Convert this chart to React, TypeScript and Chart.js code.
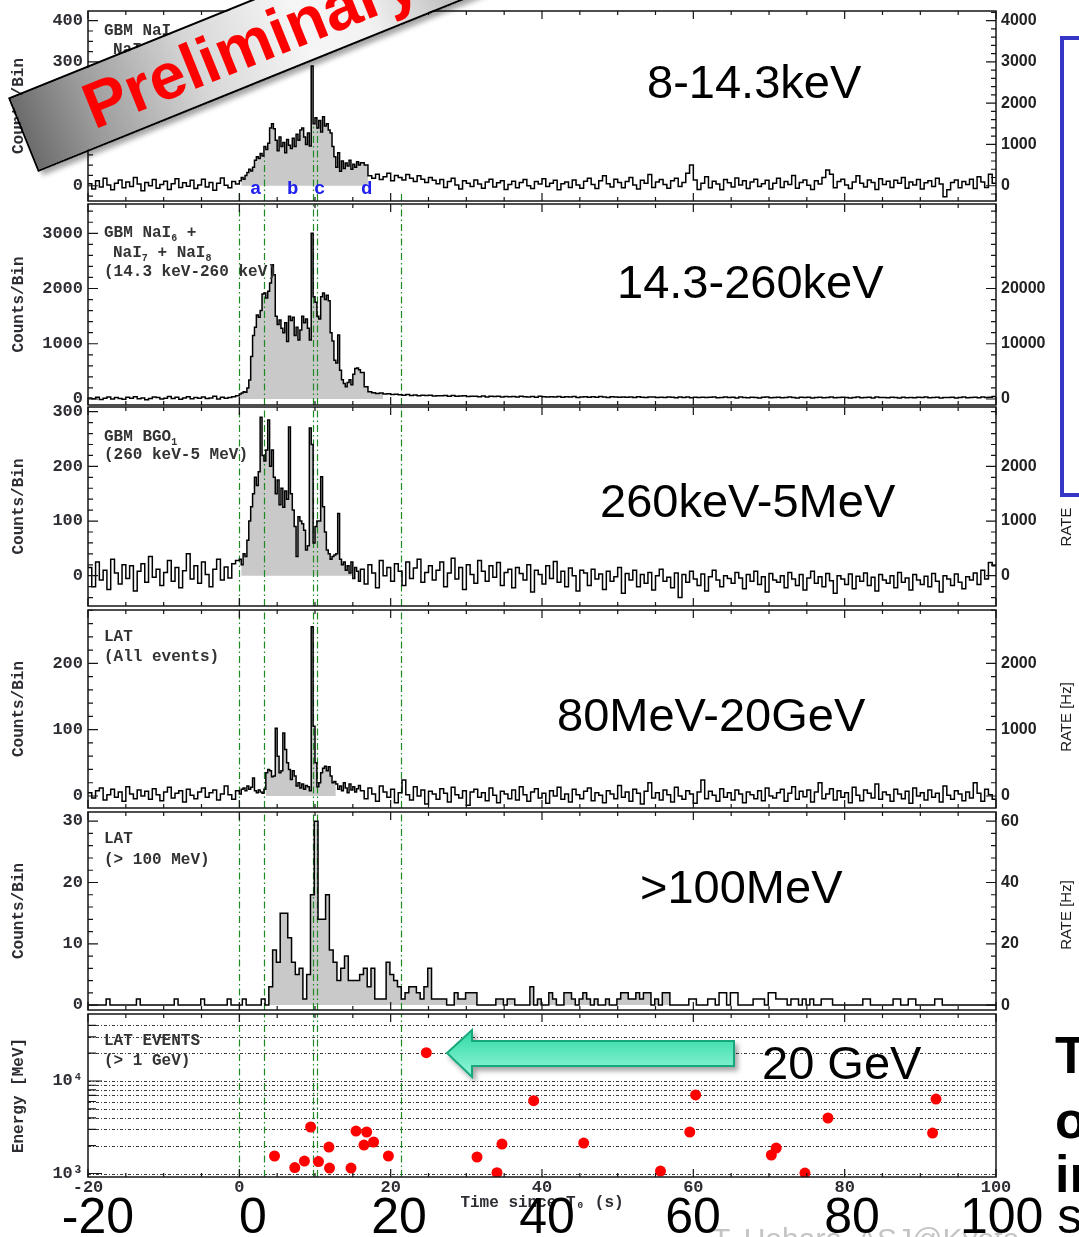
import React, { useEffect, useRef } from "react";
import { Chart, registerables } from "chart.js";

Chart.register(...registerables);

// ---------------- data ----------------
const X_MIN = -20;
const X_MAX = 100;
const X_MINOR = 5;
const X_MAJOR = 20;
const xTickLabels = [-20, 0, 20, 40, 60, 80, 100];

// green dash-dot interval markers (s)
const greenT = [0, 3.25, 9.68, 10.32, 21.43];
// in the top panel the markers only reach up to the curve
const p1GreenTop = [-14, 70, 143, 140, -16];

// histogram binning: pre-burst, burst and post-burst segments
const preStart = -20;
const preBin = 0.5;
const burstStart = 0;
const burstBin = 0.25;
const postStart = 16;
const postBin = 0.5;

// Panel 1: GBM NaI 8-14.3 keV
const p1Pre = [5, -8, 12, -3, 18, 2, -10, 6, 14, -5, 9, -2, 20, 4, -12, 8, 0, 15, -6, 3, 11, -9, 5, 17, -4, 7, -1, 13, -7, 2, 16, -3, 8, -11, 6, 19, 1, -5, 10, 4];
const p1Burst = [12, 20, 16, 25, 32, 40, 36, 45, 62, 70, 66, 78, 72, 95, 88, 103, 140, 150, 138, 110, 85, 118, 95, 105, 80, 112, 98, 90, 115, 95, 125, 110, 135, 140, 118, 100, 128, 96, 290, 150, 165, 140, 158, 130, 167, 145, 150, 135, 128, 95, 70, 45, 80, 35, 60, 42, 55, 48, 62, 40, 52, 45, 58, 50];
const p1Post = [
  56, 50, 24, 18, 28, 15, 22, 30, 12, 25,
  20, 14, 27, 18, 10, 24, 16, 8, 20, 13,
  5, 15, -4, 10, 18, 2, -8, 12, 6, -2,
  14, 4, -6, 9, 16, -3, 7, 12, -9, 3,
  11, -5, 8, 15, 0, -7, 10, 4, 17, -2,
  6, 13, -10, 5, 9, -4, 14, 2, -6, 11,
  18, 3, -7, 12, 24, 5, -3, 16, 8, -5,
  10, 20, 2, -8, 13, 6, 27, -4, 9, 15,
  3, -6, 12, 18, -2, 8, 30, 50, 14, -9,
  6, 22, -5, 11, 4, -10, 15, 7, -3, 19,
  2, 12, -7, 9, 16, -2, 5, 13, -8, 6,
  18, -4, 10, 3, 25, -6, 8, 14, 1, -9,
  12, 4, 20, 38, 28, -5, 10, 16, 2, -7,
  9, 24, 6, -3, 14, 8, -9, 17, 3, 11,
  -4, 13, 6, 20, -6, 9, 2, 15, -8, 7,
  12, -2, 18, 4, -27, -10, 8, 14, -5, 10,
  3, 16, -7, 22, 9, -4, 28, 6,
];

// Panel 2: NaI 14.3-260 keV
const p2Pre = [20, 5, 30, -10, 15, 35, 0, 25, 10, -5, 30, 15, 40, 5, 20, -15, 10, 35, 25, 0, 15, 45, 10, 30, -5, 20, 40, 5, 25, 15, 35, 10, 20, 50, 0, 30, 15, 25, 40, 60];
const p2Burst = [90, 110, 130, 120, 200, 345, 770, 1150, 1300, 1520, 1480, 1600, 1900, 1920, 1830, 1950, 2100, 2430, 2250, 1500, 1350, 1430, 1280, 1200, 1380, 1040, 1500, 1420, 1480, 1150, 1300, 1070, 1250, 1500, 1380, 1450, 1280, 1070, 3000, 1850, 1750, 1500, 1450, 1850, 1920, 1800, 1880, 1780, 1200, 1050, 700, 650, 1160, 520, 350, 280, 220, 300, 350, 260, 450, 550, 560, 530];
const p2Post = [
  480, 220, 130, 115, 100, 110, 90, 95, 80, 85,
  75, 70, 80, 65, 72, 60, 68, 62, 70, 55,
  60, 58, 65, 50, 62, 48, 55, 60, 45, 52,
  50, 42, 55, 38, 48, 45, 52, 35, 44, 40,
  47, 36, 50, 42, 38, 45, 33, 48, 40, 37,
  42, 35, 46, 30, 40, 38, 44, 28, 36, 41,
  33, 39, 30, 45, 35, 28, 40, 34, 31, 38,
  30, 36, 27, 40, 33, 25, 35, 38, 29, 32,
  26, 37, 30, 24, 34, 28, 36, 22, 31, 27,
  33, 25, 30, 38, 22, 29, 35, 26, 31, 20,
  34, 27, 24, 32, 28, 19, 30, 35, 23, 27,
  31, 22, 28, 36, 25, 20, 30, 27, 33, 18,
  26, 31, 24, 29, 35, 21, 27, 32, 25, 19,
  28, 34, 23, 26, 30, 20, 36, 25, 29, 22,
  31, 27, 19, 33, 24, 28, 21, 30, 26, 35,
  23, 29, 32, 20, 27, 25, 31, 18, 28, 34,
  22, 26, 30, 24, 38, 27, 33, 45,
];

// Panel 3: BGO 260 keV-5 MeV
const p3Pre = [15, -20, 25, -8, 10, -25, 30, 5, -15, 20, -5, 18, -28, 8, 22, -12, 35, -3, 12, -18, 6, 28, -10, 15, -22, 9, 40, -6, 18, -14, 25, 2, -20, 12, 30, -8, 16, -4, 22, 28];
const p3Burst = [30, 20, 40, 35, 65, 100, 126, 150, 180, 165, 190, 290, 220, 210, 230, 285, 200, 230, 180, 150, 175, 130, 160, 125, 155, 140, 272, 150, 120, 90, 35, 108, 100, 95, 83, 47, 55, 270, 240, 60, 90, 100, 100, 181, 126, 80, 47, 40, 30, 35, 38, 40, 114, 30, 20, 25, 10, 18, 5, 25, -5, 15, 8, -10];
const p3Post = [
  12, -15, 20, 5, -22, 28, 0, 15, -10, 22, 8, -18, 25, -5, 14, 30, -12, 6, 18, -8,
  10, 25, -20, 5, 32, -6, 15, -25, 20, 2, -14, 28, 8, -10, 18, -3, 24, -18, 6, 12,
  -22, 15, 4, -8, 20, -30, 10, 2, -15, 18, -5, 26, -12, 8, -20, 14, 0, -28, 10, 5,
  -18, 12, -6, 3, -25, 8, -10, -2, 15, -32, 4, -8, 10, -20, 2, -14, 6, -26, 0, 12,
  -10, -3, -22, 5, -40, 2, -12, 8, -6, -18, 3, -28, -2, 10, -8, -20, 0, -5, -14, 6,
  -4, -24, 2, -10, 8, -16, -2, -30, 4, -8, -12, 0, -22, 6, -6, -18, 2, -26, -4, 8,
  -14, -2, -20, 4, -9, -32, 0, -6, -16, 3, -24, -1, -10, 5, -18, -3, -28, 2, -8, -14,
  0, -22, 6, -12, -4, -26, 2, -8, -16, -1, -20, 4, -10, -30, 0, -6, -18, 3, -12, -24,
  -2, -8, 5, -16, 10, -6, 24, 18,
];

// Panel 4: LAT all events
const p4Pre = [5, -3, 8, 12, -6, 2, 10, -2, 6, -8, 14, 3, -4, 9, 0, 7, -5, 11, 2, -7, 6, 13, -3, 4, 8, -9, 10, 1, -4, 6, 12, -2, 5, 9, -6, 3, 15, 2, -5, 8];
const p4Burst = [3, 10, 12, 8, 15, 10, 13, 27, 8, 5, 9, 6, 4, 10, 35, 40, 38, 29, 30, 102, 60, 35, 38, 95, 70, 50, 40, 25, 38, 30, 15, 20, 12, 18, 10, 16, 14, 8, 255, 105, 50, 14, 20, 35, 42, 45, 38, 44, 30, 20, 22, 18, 10, 15, 8, 20, 12, 5, 18, 9, 14, 6, 11, 16];
const p4Post = [
  8, -4, 12, 3, -8, 15, 6, -2, 10, -10, 5, 24, 2, -6, 14, 0, 9, -12, 7, 3,
  -5, 11, 4, -9, 13, 2, -3, 8, -14, 6, 10, -2, 5, -7, 12, 1, -10, 7, 3, -4,
  9, -6, 14, 2, -8, 6, 11, -3, 4, -11, 8, 0, 13, -5, 3, -9, 10, 2, -4, 7,
  12, -7, 5, 1, -10, 8, 3, -4, 16, -2, 6, -8, 10, 4, -12, 7, 20, -3, 5, -6,
  9, 2, -9, 13, 0, -5, 8, 3, -11, 6, 24, -4, 7, 1, -8, 11, -2, 5, -6, 9,
  3, -10, 6, 2, -4, 8, -7, 12, 0, -3, 5, 10, -8, 4, 14, -5, 7, -1, 9, -9,
  6, 20, -4, 3, 11, -6, 8, -2, 5, -10, 13, 1, -7, 9, 4, -3, 18, -5, 6, 2,
  -8, 10, 3, -4, 7, -11, 12, 0, 5, -6, 9, -2, 4, -9, 15, 1, -5, 8, 3, -7,
  6, -3, 20, 4, -8, 10, 2, -5,
];

// Panel 5: LAT > 100 MeV, 0.5 s bins starting at -20.1 s
const p5Start = -20.1;
const p5Bin = 0.5;
const p5Counts = [
  0, 0, 0, 0, 0, 1, 0, 0, 0, 0,
  0, 0, 0, 1, 0, 0, 0, 0, 0, 0,
  0, 0, 0, 1, 0, 0, 0, 0, 0, 0,
  1, 0, 0, 0, 0, 0, 0, 1, 0, 0,
  0, 1, 0, 0, 0, 0, 1, 0,
  3, 9, 7, 15, 15, 11, 7, 5, 6, 1,
  5, 18, 30, 14, 14, 18, 9, 7, 4, 6,
  8, 4, 4, 4, 5, 6, 3, 6, 1, 1,
  1, 7, 5, 4, 3, 1, 2, 3, 3, 2,
  1, 3, 6, 1, 1, 1, 1, 0, 0, 2,
  1, 1, 2, 2, 2, 0, 0, 0, 0, 0,
  1, 1, 0, 1, 1, 0, 0, 0, 0, 3,
  0, 1, 0, 0, 2, 1, 0, 0, 2, 2,
  1, 0, 1, 2, 1, 0, 1, 0, 0, 1,
  0, 0, 1, 2, 2, 1, 1, 2, 1, 2,
  2, 0, 1, 0, 2, 2, 0, 0, 0, 0,
  0, 1, 1, 0, 0, 0, 1, 1, 0, 2,
  2, 0, 2, 2, 0, 0, 0, 0, 1, 1,
  1, 0, 2, 2, 1, 1, 1, 0, 1, 1,
  0, 1, 0, 1, 0, 0, 1, 1, 1, 0,
  0, 0, 0, 0, 0, 0, 0, 1, 1, 0,
  0, 0, 0, 0, 0, 1, 1, 0, 0, 1,
  1, 0, 0, 0, 0, 0, 1, 1, 0, 0,
  0, 0, 0, 0, 0, 0, 0, 0, 0, 0, 0, 0, 0,
];

// Panel 6: LAT events > 1 GeV
const p6Time = [4.65, 7.33, 8.6, 9.42, 10.46, 11.84, 11.92, 14.76, 15.42, 16.83, 16.47, 17.74, 19.7, 24.71, 31.41, 34.05, 34.71, 38.9, 45.51, 55.66, 59.53, 60.3, 70.31, 70.95, 74.75, 77.79, 91.62, 92.07];
const p6Energy = [1546, 1161, 1365, 3183, 1348, 1933, 1146, 1146, 2879, 2810, 2032, 2191, 1546, 20230, 1508, 1020, 2083, 6124, 2136, 1064, 2810, 7060, 1585, 1886, 1012, 3980, 2740, 6385];
const p6Grid = [1000, 2000, 3000, 4000, 5000, 6000, 7000, 8000, 9000, 10000, 20000, 30000, 40000];
const p6Labels = [1000, 10000];

// ---------------- layout / style ----------------
const CANVAS_W = 1056;
const LEFT_W = 88;
const RIGHT_W = 60;
const PAD = 20;
const MONO = '"Liberation Mono", "DejaVu Sans Mono", monospace';
const SANS = '"Liberation Sans", Arial, sans-serif';
const AXIS_COLOR = "#2f2c34";

type Pt = { x: number; y: number };

function histPoints(pre: number[], burst: number[], post: number[]): Pt[] {
  const pts: Pt[] = [];
  pre.forEach((v, i) => pts.push({ x: preStart + i * preBin, y: v }));
  burst.forEach((v, i) => pts.push({ x: burstStart + i * burstBin, y: v }));
  post.forEach((v, i) => pts.push({ x: postStart + i * postBin, y: v }));
  pts.push({ x: postStart + post.length * postBin, y: post[post.length - 1] });
  return pts;
}

function uniformPoints(start: number, bin: number, vals: number[]): Pt[] {
  const pts = vals.map((v, i) => ({ x: start + i * bin, y: v }));
  pts.push({ x: start + vals.length * bin, y: vals[vals.length - 1] });
  return pts;
}

function fillPoints(pts: Pt[], a: number, b: number): Pt[] {
  let va = 0;
  for (const p of pts) if (p.x <= a) va = p.y;
  const out: Pt[] = [{ x: a, y: va }];
  for (const p of pts) if (p.x > a && p.x < b) out.push(p);
  out.push({ x: b, y: out[out.length - 1].y });
  return out;
}

function makeFramePlugin(opt: any) {
  const drawGreen = (chart: any) => {
    const { ctx, chartArea: a, scales } = chart;
    ctx.save();
    ctx.beginPath();
    ctx.rect(a.left, a.top, a.right - a.left, a.bottom - a.top);
    ctx.clip();
    ctx.strokeStyle = "#1f8a24";
    ctx.lineWidth = 1.2;
    ctx.setLineDash([7, 3, 1.5, 3]);
    greenT.forEach((t, i) => {
      const x = Math.round(scales.x.getPixelForValue(t)) + 0.5;
      const yTop = opt.greenTop ? scales.y.getPixelForValue(opt.greenTop[i]) : a.top;
      ctx.beginPath();
      ctx.moveTo(x, a.bottom);
      ctx.lineTo(x, yTop);
      ctx.stroke();
    });
    ctx.restore();
  };
  return {
    id: "frame",
    beforeDatasetsDraw(chart: any) {
      const { ctx, chartArea: a, scales } = chart;
      if (opt.logGrid) {
        ctx.save();
        ctx.strokeStyle = "#3a3a3a";
        ctx.lineWidth = 1;
        ctx.setLineDash([3, 2, 1, 2]);
        for (const v of opt.logGrid) {
          const y = Math.round(scales.y.getPixelForValue(v)) + 0.5;
          ctx.beginPath();
          ctx.moveTo(a.left, y);
          ctx.lineTo(a.right, y);
          ctx.stroke();
        }
        ctx.restore();
      }
      if (!opt.hasFill) drawGreen(chart);
    },
    afterDatasetDraw(chart: any, args: any) {
      if (opt.hasFill && args.index === 1) drawGreen(chart);
    },
    afterDatasetsDraw(chart: any) {
      const { ctx, chartArea: a, scales } = chart;
      ctx.save();
      ctx.setLineDash([]);
      ctx.strokeStyle = "#151515";
      ctx.lineWidth = 1.5;
      ctx.strokeRect(a.left, a.top, a.right - a.left, a.bottom - a.top);
      ctx.lineWidth = 1.2;
      ctx.beginPath();
      for (let k = X_MIN / X_MINOR; k <= X_MAX / X_MINOR; k++) {
        const t = k * X_MINOR;
        const x = scales.x.getPixelForValue(t);
        const len = t % X_MAJOR === 0 ? 8 : 4;
        ctx.moveTo(x, a.top);
        ctx.lineTo(x, a.top + len);
        ctx.moveTo(x, a.bottom);
        ctx.lineTo(x, a.bottom - len);
      }
      const yTicks = (scale: any, major: number[], step: number, fromX: number, dir: number) => {
        const kMin = Math.ceil(scale.min / step);
        const kMax = Math.floor(scale.max / step);
        for (let k = kMin; k <= kMax; k++) {
          const v = k * step;
          const y = scale.getPixelForValue(v);
          const len = major.includes(v) ? 10 : 5;
          ctx.moveTo(fromX, y);
          ctx.lineTo(fromX + dir * len, y);
        }
      };
      if (opt.leftMinor) yTicks(scales.y, opt.leftTicks, opt.leftMinor, a.left, 1);
      if (opt.rightMinor) yTicks(scales.y2, opt.rightTicks, opt.rightMinor, a.right, -1);
      if (opt.logGrid) {
        for (const v of opt.logGrid) {
          const y = scales.y.getPixelForValue(v);
          const len = opt.logLabels.includes(v) ? 14 : 8;
          ctx.moveTo(a.left, y);
          ctx.lineTo(a.left + len, y);
        }
      }
      ctx.stroke();
      ctx.restore();
    },
  };
}

type HistSpec = {
  top: number;
  bottom: number;
  yMin: number;
  yMax: number;
  rightFactor: number;
  leftTicks: number[];
  leftMinor: number;
  rightTicks: number[];
  rightMinor: number;
  points: Pt[];
  fillRange: number[];
  greenTop?: number[];
};

const leftTickFont = { family: MONO, size: 17, weight: "bold" as const };
const titleFont = { family: MONO, size: 16, weight: "bold" as const };
const rightTickFont = { family: SANS, size: 16, weight: "bold" as const };

function histConfig(s: HistSpec): any {
  const fillPts = fillPoints(s.points, s.fillRange[0], s.fillRange[1]);
  return {
    type: "line",
    data: {
      datasets: [
        { data: s.points, stepped: true, borderColor: "#000", borderWidth: 1.5, pointRadius: 0, fill: false },
        { data: fillPts, stepped: true, borderWidth: 0, borderColor: "rgba(0,0,0,0)", backgroundColor: "#c9c9c9", pointRadius: 0, fill: "origin" },
      ],
    },
    options: {
      animation: false,
      responsive: false,
      maintainAspectRatio: false,
      events: [],
      layout: { padding: { top: PAD, bottom: PAD, left: 0, right: 0 } },
      plugins: { legend: { display: false }, tooltip: { enabled: false } },
      scales: {
        x: { type: "linear", min: X_MIN, max: X_MAX, display: false },
        y: {
          type: "linear",
          position: "left",
          min: s.yMin,
          max: s.yMax,
          afterBuildTicks: (ax: any) => {
            ax.ticks = s.leftTicks.map((v) => ({ value: v }));
          },
          afterFit: (ax: any) => {
            ax.width = LEFT_W;
          },
          grid: { display: false, drawTicks: false },
          border: { display: false },
          ticks: { font: leftTickFont, color: AXIS_COLOR, padding: 5, autoSkip: false, callback: (v: any) => String(v) },
          title: { display: true, text: "Counts/Bin", font: titleFont, color: AXIS_COLOR, padding: { top: 9, bottom: 0 } },
        },
        y2: {
          type: "linear",
          position: "right",
          min: s.yMin * s.rightFactor,
          max: s.yMax * s.rightFactor,
          afterBuildTicks: (ax: any) => {
            ax.ticks = s.rightTicks.map((v) => ({ value: v }));
          },
          afterFit: (ax: any) => {
            ax.width = RIGHT_W;
          },
          grid: { display: false, drawTicks: false },
          border: { display: false },
          ticks: { font: rightTickFont, color: "#222", padding: 5, autoSkip: false, callback: (v: any) => String(v) },
        },
      },
    },
    plugins: [
      makeFramePlugin({
        hasFill: true,
        leftTicks: s.leftTicks,
        leftMinor: s.leftMinor,
        rightTicks: s.rightTicks,
        rightMinor: s.rightMinor,
        greenTop: s.greenTop,
      }),
    ],
  };
}

const P6_TOP = 1014;
const P6_BOTTOM = 1177;
const P6_XAXIS_H = 40;

function eventsConfig(): any {
  const pts = p6Time.map((t, i) => ({ x: t, y: p6Energy[i] }));
  return {
    type: "scatter",
    data: {
      datasets: [
        { data: pts, pointRadius: 5.5, pointBackgroundColor: "#ff0000", backgroundColor: "#ff0000", borderColor: "#ff0000", pointBorderWidth: 0 },
      ],
    },
    options: {
      animation: false,
      responsive: false,
      maintainAspectRatio: false,
      events: [],
      layout: { padding: { top: PAD, bottom: 0, left: 0, right: 0 } },
      plugins: { legend: { display: false }, tooltip: { enabled: false } },
      scales: {
        x: {
          type: "linear",
          position: "bottom",
          min: X_MIN,
          max: X_MAX,
          afterBuildTicks: (ax: any) => {
            ax.ticks = xTickLabels.map((v) => ({ value: v }));
          },
          afterFit: (ax: any) => {
            ax.height = P6_XAXIS_H;
          },
          grid: { display: false, drawTicks: false },
          border: { display: false },
          ticks: { font: leftTickFont, color: AXIS_COLOR, padding: 1, maxRotation: 0, autoSkip: false, callback: (v: any) => String(v) },
          title: { display: true, text: "Time since T\u2080 (s)", font: titleFont, color: AXIS_COLOR, padding: { top: 4, bottom: 4 } },
        },
        y: {
          type: "logarithmic",
          position: "left",
          min: 917,
          max: 52970,
          afterBuildTicks: (ax: any) => {
            ax.ticks = p6Labels.map((v) => ({ value: v }));
          },
          afterFit: (ax: any) => {
            ax.width = LEFT_W;
          },
          grid: { display: false, drawTicks: false },
          border: { display: false },
          ticks: {
            font: leftTickFont,
            color: AXIS_COLOR,
            padding: 5,
            autoSkip: false,
            callback: (v: any) => (v === 1000 ? "10\u00b3" : v === 10000 ? "10\u2074" : ""),
          },
          title: { display: true, text: "Energy [MeV]", font: titleFont, color: AXIS_COLOR, padding: { top: 9, bottom: 0 } },
        },
        y2: {
          type: "linear",
          position: "right",
          min: 0,
          max: 1,
          afterFit: (ax: any) => {
            ax.width = RIGHT_W;
          },
          grid: { display: false, drawTicks: false },
          border: { display: false },
          ticks: { display: false },
        },
      },
    },
    plugins: [makeFramePlugin({ hasFill: false, logGrid: p6Grid, logLabels: p6Labels })],
  };
}

const panels: HistSpec[] = [
  {
    top: 11, bottom: 201, yMin: -37, yMax: 423.5, rightFactor: 10,
    leftTicks: [0, 100, 200, 300, 400], leftMinor: 25, rightTicks: [0, 1000, 2000, 3000, 4000], rightMinor: 200,
    points: histPoints(p1Pre, p1Burst, p1Post), fillRange: [0.25, 17], greenTop: p1GreenTop,
  },
  {
    top: 204, bottom: 405, yMin: -108.6, yMax: 3530, rightFactor: 10,
    leftTicks: [0, 1000, 2000, 3000], leftMinor: 200, rightTicks: [0, 10000, 20000], rightMinor: 2000,
    points: histPoints(p2Pre, p2Burst, p2Post), fillRange: [0, 19],
  },
  {
    top: 407, bottom: 606, yMin: -55.4, yMax: 308.6, rightFactor: 10,
    leftTicks: [0, 100, 200, 300], leftMinor: 20, rightTicks: [0, 1000, 2000], rightMinor: 200,
    points: histPoints(p3Pre, p3Burst, p3Post), fillRange: [0.25, 15],
  },
  {
    top: 610, bottom: 808, yMin: -18.1, yMax: 280.4, rightFactor: 10,
    leftTicks: [0, 100, 200], leftMinor: 20, rightTicks: [0, 1000, 2000], rightMinor: 200,
    points: histPoints(p4Pre, p4Burst, p4Post), fillRange: [3.5, 12.75],
  },
  {
    top: 812, bottom: 1010, yMin: -0.8, yMax: 31.5, rightFactor: 2,
    leftTicks: [0, 10, 20, 30], leftMinor: 2, rightTicks: [0, 20, 40, 60], rightMinor: 4,
    points: uniformPoints(p5Start, p5Bin, p5Counts), fillRange: [3.9, 57],
  },
];

function ChartBox({ top, height, make }: { top: number; height: number; make: () => any }) {
  const ref = useRef<HTMLCanvasElement | null>(null);
  useEffect(() => {
    if (!ref.current) return;
    const chart = new Chart(ref.current, make());
    return () => chart.destroy();
  }, []);
  return (
    <canvas
      ref={ref}
      width={CANVAS_W}
      height={height}
      style={{ position: "absolute", left: 0, top, width: CANVAS_W, height }}
    />
  );
}

const labStyle: React.CSSProperties = {
  position: "absolute",
  fontFamily: MONO,
  fontWeight: "bold",
  fontSize: 16,
  lineHeight: "18px",
  color: "#333",
  whiteSpace: "pre",
};
const subStyle: React.CSSProperties = { fontSize: 10, position: "relative", top: 4, verticalAlign: "baseline", lineHeight: 0 };

function Lab({ x, y, children }: { x: number; y: number; children: React.ReactNode }) {
  return <div style={{ ...labStyle, left: x, top: y - 9 }}>{children}</div>;
}

const bigStyle: React.CSSProperties = {
  position: "absolute",
  fontFamily: SANS,
  fontSize: 47,
  lineHeight: "47px",
  color: "#000",
  whiteSpace: "pre",
};

function Big({ x, cy, text }: { x: number; cy: number; text: string }) {
  return <div style={{ ...bigStyle, left: x, top: cy - 23 }}>{text}</div>;
}

function XBig({ cx, text }: { cx: number; text: string }) {
  return (
    <div style={{ ...bigStyle, fontSize: 50, lineHeight: "50px", left: cx - 60, width: 120, textAlign: "center", top: 1191 }}>
      {text}
    </div>
  );
}

function Rot({ cx, cy, text }: { cx: number; cy: number; text: string }) {
  return (
    <div
      style={{
        position: "absolute",
        left: cx,
        top: cy,
        transform: "translate(-50%, -50%) rotate(-90deg)",
        fontFamily: SANS,
        fontSize: 15,
        color: "#1e1e1e",
        whiteSpace: "nowrap",
      }}
    >
      {text}
    </div>
  );
}

export default function App() {
  return (
    <div style={{ position: "absolute", left: 0, top: 0, width: 1079, height: 1237, overflow: "hidden", background: "#fff" }}>
      {panels.map((p, i) => (
        <ChartBox key={i} top={p.top - PAD} height={p.bottom - p.top + 2 * PAD} make={() => histConfig(p)} />
      ))}
      <ChartBox top={P6_TOP - PAD} height={P6_BOTTOM - P6_TOP + PAD + P6_XAXIS_H} make={eventsConfig} />

      {/* panel annotations */}
      <Lab x={104} y={31}>GBM NaI</Lab>
      <Lab x={113} y={50}>NaI</Lab>
      <Lab x={104} y={233}>
        GBM NaI<sub style={subStyle}>6</sub> +
      </Lab>
      <Lab x={113} y={253}>
        NaI<sub style={subStyle}>7</sub> + NaI<sub style={subStyle}>8</sub>
      </Lab>
      <Lab x={104} y={272}>(14.3 keV-260 keV)</Lab>
      <Lab x={104} y={437}>
        GBM BGO<sub style={subStyle}>1</sub>
      </Lab>
      <Lab x={104} y={455}>(260 keV-5 MeV)</Lab>
      <Lab x={104} y={637}>LAT</Lab>
      <Lab x={104} y={657}>(All events)</Lab>
      <Lab x={104} y={839}>LAT</Lab>
      <Lab x={104} y={860}>(&gt; 100 MeV)</Lab>
      <Lab x={104} y={1041}>LAT EVENTS</Lab>
      <Lab x={104} y={1061}>(&gt; 1 GeV)</Lab>

      {["a", "b", "c", "d"].map((c, i) => (
        <div
          key={c}
          style={{
            position: "absolute",
            left: [256, 293, 320, 367][i] - 6,
            top: 180,
            fontFamily: MONO,
            fontWeight: "bold",
            fontSize: 19,
            lineHeight: "18px",
            color: "#2020f0",
          }}
        >
          {c}
        </div>
      ))}

      {/* slide overlays */}
      <svg width={1079} height={1237} style={{ position: "absolute", left: 0, top: 0 }}>
        <defs>
          <linearGradient id="arrowGrad" x1="0" y1="0" x2="0" y2="1">
            <stop offset="0" stopColor="#2fd8a5" />
            <stop offset="1" stopColor="#94f7d8" />
          </linearGradient>
          <filter id="arrowShadow" x="-10%" y="-30%" width="130%" height="180%">
            <feDropShadow dx="3" dy="4" stdDeviation="2.5" floodColor="#000" floodOpacity="0.35" />
          </filter>
        </defs>
        <polygon
          points="447,1053 472,1030 472,1041 734,1041 734,1066 472,1066 472,1077"
          fill="url(#arrowGrad)"
          stroke="#19a77c"
          strokeWidth={2}
          filter="url(#arrowShadow)"
        />
        <polyline points="1079,38 1062,38 1062,495 1079,495" fill="none" stroke="#3636c6" strokeWidth={4} />
      </svg>

      <Big x={647} cy={81} text="8-14.3keV" />
      <Big x={617} cy={281} text="14.3-260keV" />
      <Big x={600} cy={500} text="260keV-5MeV" />
      <Big x={557} cy={714} text="80MeV-20GeV" />
      <Big x={640} cy={886} text=">100MeV" />
      <Big x={762} cy={1062} text="20 GeV" />

      <Rot cx={1065} cy={527} text="RATE" />
      <Rot cx={1065} cy={717} text="RATE [Hz]" />
      <Rot cx={1065} cy={915} text="RATE [Hz]" />

      <div style={{ position: "absolute", left: 712, top: 1224, fontFamily: SANS, fontSize: 30, lineHeight: "30px", color: "#c4c4c4", whiteSpace: "pre" }}>
        T. Uehara, ASJ@Kyoto
      </div>

      <XBig cx={98} text="-20" />
      <XBig cx={253} text="0" />
      <XBig cx={399} text="20" />
      <XBig cx={547} text="40" />
      <XBig cx={693} text="60" />
      <XBig cx={852} text="80" />
      <div style={{ ...bigStyle, fontSize: 50, lineHeight: "50px", left: 960, top: 1191 }}>100 s</div>

      <div style={{ ...bigStyle, fontWeight: "bold", fontSize: 52, lineHeight: "52px", left: 1055, top: 1029 }}>T</div>
      <div style={{ ...bigStyle, fontWeight: "bold", fontSize: 52, lineHeight: "52px", left: 1055, top: 1094 }}>o</div>
      <div style={{ ...bigStyle, fontWeight: "bold", fontSize: 52, lineHeight: "52px", left: 1055, top: 1148 }}>ir</div>

      {/* Preliminary banner */}
      <div
        style={{
          position: "absolute",
          left: 38,
          top: 92,
          width: 660,
          height: 80,
          boxSizing: "border-box",
          border: "2px solid #000",
          transformOrigin: "0 100%",
          transform: "rotate(-22deg)",
          background:
            "linear-gradient(90deg, #6c6c6c 0%, #999999 10%, #d6d6d6 28%, #f6f6f6 45%, #f2f2f2 55%, #bdbdbd 69%, #8a8a8a 100%)",
          boxShadow: "3px 5px 5px rgba(0,0,0,0.35)",
          fontFamily: SANS,
          fontWeight: "bold",
          fontSize: 65,
          lineHeight: "76px",
          color: "#ff0000",
          paddingLeft: 66,
          whiteSpace: "nowrap",
        }}
      >
        Preliminary
      </div>
    </div>
  );
}
